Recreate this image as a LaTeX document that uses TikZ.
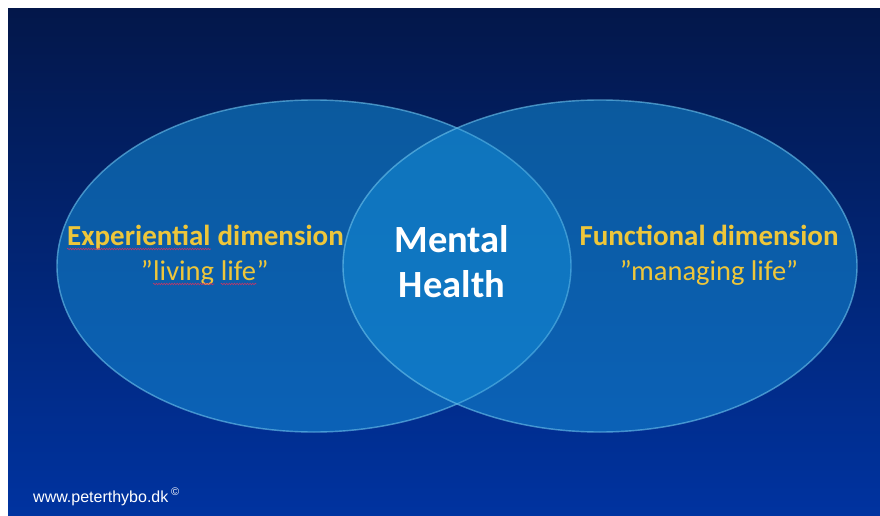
\documentclass[tikz,border=0pt]{standalone}
\usepackage{fontspec}
\setmainfont{Carlito}
\newfontfamily\webfont{Liberation Sans}
\usetikzlibrary{positioning, decorations.pathmorphing}

\definecolor{bgtop}{HTML}{03174A}
\definecolor{bgmid}{HTML}{022C80}
\definecolor{bgbottom}{HTML}{0033A0}
\definecolor{ringfill}{RGB}{19,138,212}
\definecolor{ringedge}{HTML}{6CC2EC}
\definecolor{dimyellow}{HTML}{EEC63A}
\definecolor{spellred}{HTML}{C03868}

\begin{document}
\begin{tikzpicture}[
  x=1pt, y=1pt,
  ring/.style={
    fill=ringfill,
    fill opacity=0.56,
    draw=ringedge,
    draw opacity=0.38,
    line width=1.4pt
  },
  dimension/.style={
    inner sep=0pt,
    text=dimyellow,
    font=\fontsize{29}{33}\selectfont\bfseries
  },
  motto/.style={
    inner sep=0pt,
    text=dimyellow,
    font=\fontsize{28.5}{32}\selectfont
  },
  centre/.style={
    anchor=base,
    inner sep=0pt,
    text=white,
    font=\fontsize{38.5}{44}\selectfont\bfseries
  },
  spell/.style={
    spellred,
    line width=0.6pt,
    decorate,
    decoration={snake, segment length=2.6pt, amplitude=0.8pt}
  }
]

% page and slide background
\fill[white] (0,0) rectangle (880,515);
\shade[top color=bgtop, middle color=bgmid, bottom color=bgbottom]
  (8,0) rectangle (880,506);
\useasboundingbox (0,0) rectangle (880,515);

% the two overlapping dimensions
\coordinate (experience) at (314,249);
\coordinate (function) at (600,249);
\fill[ring] (experience) ellipse [x radius=257, y radius=166];
\fill[ring] (function) ellipse [x radius=257, y radius=166];
\draw[ring, fill=none] (experience) ellipse [x radius=257, y radius=166];
\draw[ring, fill=none] (function) ellipse [x radius=257, y radius=166];

% left side, word by word for the spelling marks
\node[dimension, anchor=base west] (expword) at (67,270) {Experiential};
\node[dimension, base right=6.6pt of expword] (dimword) {dimension};
\node[motto, anchor=base west] (living) at (153,235) {living};
\node[motto, base left=0pt of living] (lquote) {”};
\node[motto, base right=6.4pt of living] (life) {life};
\node[motto, base right=0pt of life] (rquote) {”};

\draw[spell] ([yshift=-4pt]expword.base west) -- ([yshift=-4pt]expword.base east);
\draw[spell] ([yshift=-4pt]living.base west) -- ([yshift=-4pt]living.base east);
\draw[spell] ([yshift=-4pt]life.base west) -- ([yshift=-4pt]life.base east);

% right side
\node[dimension, anchor=base] (functitle) at (709,270) {Functional dimension};
\node[motto, anchor=base] (funcmotto) at (709,235) {”managing life”};

% overlap
\node[centre] (mental) at (452,263) {Mental};
\node[centre] (health) at (452,218) {Health};

\node[anchor=base west, inner sep=0pt, text=white,
  font=\webfont\fontsize{16}{18}\selectfont] (site) at (33,13)
  {www.peterthybo.dk\,\raisebox{7pt}{\fontsize{11}{12}\selectfont©}};

\end{tikzpicture}
\end{document}
